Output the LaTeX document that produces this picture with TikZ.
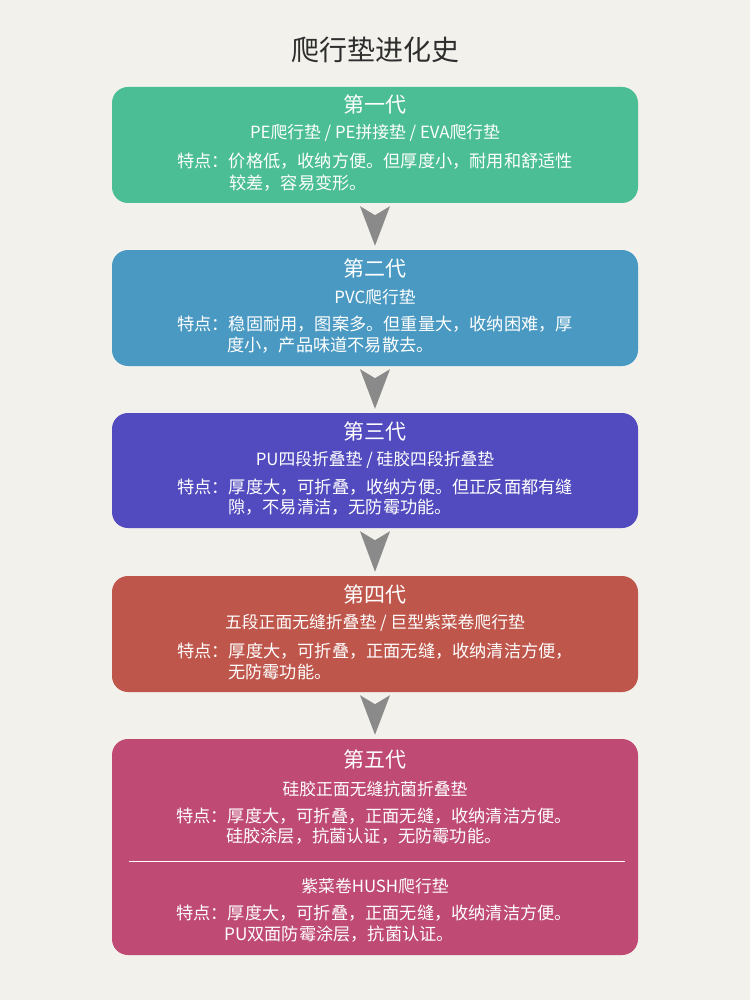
\documentclass[tikz,border=0pt]{standalone}
\usepackage{fontspec}
\setmainfont{Noto Sans CJK SC}
\usetikzlibrary{calc}
\definecolor{bg}{HTML}{F2F1EC}
\definecolor{titlegray}{HTML}{2E2E2E}
\definecolor{arrowgray}{HTML}{8A8A8A}
\definecolor{cgreen}{HTML}{4BBE95}
\definecolor{cblue}{HTML}{4A99C2}
\definecolor{cpurple}{HTML}{524ABF}
\definecolor{cred}{HTML}{BF564B}
\definecolor{cpink}{HTML}{BF4A73}
\begin{document}
\begin{tikzpicture}[x=1pt,y=-1pt,
  genbox/.style={rectangle, rounded corners=16pt, minimum width=526pt, inner sep=0pt},
  gentitle/.style={text=white, font=\fontsize{21}{21}\selectfont, inner sep=0pt},
  subtitle/.style={text=white, font=\fontsize{16.8}{17}\selectfont, inner sep=0pt},
  bodytext/.style={text=white, font=\fontsize{17.2}{18}\selectfont, inner sep=0pt, anchor=west},
  arrowshape/.style={fill=arrowgray}]
\fill[bg] (0,0) rectangle (750,1000);
\useasboundingbox (0,0) rectangle (750,1000);

\node[text=titlegray, font=\fontsize{28}{28}\selectfont, inner sep=0pt] (title) at (375,50) {爬行垫进化史};

% boxes
\node[genbox, fill=cgreen, minimum height=116pt] (b1) at (375,145) {};
\node[genbox, fill=cblue, minimum height=116pt] (b2) at (375,308) {};
\node[genbox, fill=cpurple, minimum height=115pt] (b3) at (375,470.5) {};
\node[genbox, fill=cred, minimum height=116pt] (b4) at (375,634) {};
\node[genbox, fill=cpink, minimum height=216pt] (b5) at (375,847) {};

% arrows
\foreach \a/\b in {b1/b2,b2/b3,b3/b4,b4/b5}{
  \fill[arrowshape] ($(\a.south)+(-15,3)$) -- ($(\a.south)+(0,12)$) -- ($(\a.south)+(15,3)$) -- ($(\b.north)+(0,-4)$) -- cycle;
}

% box 1
\node[gentitle] (g1) at (375,104) {第一代};
\node[subtitle] (s1) at (375,133) {PE爬行垫 / PE拼接垫 / EVA爬行垫};
\node[bodytext] (t1a) at (177,161) {特点：价格低，收纳方便。但厚度小，耐用和舒适性};
\node[bodytext] (t1b) at (229,183) {较差，容易变形。};

% box 2
\node[gentitle] (g2) at (375,268) {第二代};
\node[subtitle] (s2) at (375,297) {PVC爬行垫};
\node[bodytext] (t2a) at (177,324) {特点：稳固耐用，图案多。但重量大，收纳困难，厚};
\node[bodytext] (t2b) at (227,345) {度小，产品味道不易散去。};

% box 3
\node[gentitle] (g3) at (375,431) {第三代};
\node[subtitle] (s3) at (375,460) {PU四段折叠垫 / 硅胶四段折叠垫};
\node[bodytext] (t3a) at (177,487) {特点：厚度大，可折叠，收纳方便。但正反面都有缝};
\node[bodytext] (t3b) at (228,507) {隙，不易清洁，无防霉功能。};

% box 4
\node[gentitle] (g4) at (375,594) {第四代};
\node[subtitle] (s4) at (375,623) {五段正面无缝折叠垫 / 巨型紫菜卷爬行垫};
\node[bodytext] (t4a) at (177,651) {特点：厚度大，可折叠，正面无缝，收纳清洁方便，};
\node[bodytext] (t4b) at (228,672) {无防霉功能。};

% box 5
\node[gentitle] (g5) at (375,759) {第五代};
\node[subtitle] (s5) at (375,789) {硅胶正面无缝抗菌折叠垫};
\node[bodytext] (t5a) at (176,816) {特点：厚度大，可折叠，正面无缝，收纳清洁方便。};
\node[bodytext] (t5b) at (226,836) {硅胶涂层，抗菌认证，无防霉功能。};
\coordinate (sepL) at (129,861);
\coordinate (sepR) at (625,861);
\draw[white, line width=1pt] (sepL) -- (sepR);
\node[subtitle] (s6) at (375,886) {紫菜卷HUSH爬行垫};
\node[bodytext] (t6a) at (176,913) {特点：厚度大，可折叠，正面无缝，收纳清洁方便。};
\node[bodytext] (t6b) at (224,934) {PU双面防霉涂层，抗菌认证。};
\end{tikzpicture}
\end{document}
